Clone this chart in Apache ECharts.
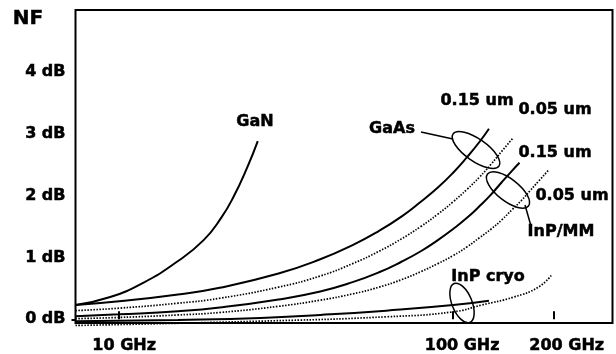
<!DOCTYPE html>
<html>
<head>
<meta charset="utf-8">
<script src="https://cdn.jsdelivr.net/npm/echarts@6/dist/echarts.min.js"></script>
<style>html,body{margin:0;padding:0;background:#fff}#c{width:616px;height:354px}</style>
</head>
<body>
<div id="c"></div>
<script>
// ---- data (frequency in GHz, noise figure in dB) ----
const xTickValues = [10, 100, 200];
const yTickValues = [0, 1, 2, 3, 4];

const ganFreq = [7.4, 9.4, 11.8, 14.9, 17.9, 20.2, 22, 24.2, 26];
const ganNF   = [0.23, 0.36, 0.59, 0.93, 1.28, 1.64, 1.98, 2.46, 2.88];

const gaas015Freq = [7.4, 10, 15, 20, 30, 40, 50, 60, 70, 80, 90, 100, 110, 120, 128];
const gaas015NF   = [0.23, 0.29, 0.40, 0.51, 0.74, 0.97, 1.20, 1.43, 1.66, 1.90, 2.13, 2.37, 2.62, 2.87, 3.08];

const gaas005Freq = [7.4, 10, 15, 20, 30, 40, 50, 60, 70, 80, 90, 100, 110, 120, 130, 140, 151];
const gaas005NF   = [0.14, 0.18, 0.26, 0.34, 0.52, 0.70, 0.90, 1.10, 1.30, 1.50, 1.70, 1.90, 2.10, 2.30, 2.51, 2.72, 2.93];

const inp015Freq = [7.4, 10, 15, 20, 30, 40, 50, 60, 70, 80, 90, 100, 110, 120, 130, 140, 150, 158];
const inp015NF   = [0.05, 0.08, 0.13, 0.19, 0.32, 0.45, 0.60, 0.76, 0.93, 1.10, 1.28, 1.46, 1.64, 1.83, 2.02, 2.22, 2.40, 2.53];

const inp005Freq = [7.4, 10, 15, 20, 30, 40, 50, 60, 70, 80, 90, 100, 110, 120, 130, 140, 150, 160, 170, 180, 193];
const inp005NF   = [0.01, 0.03, 0.07, 0.11, 0.21, 0.31, 0.41, 0.52, 0.64, 0.77, 0.90, 1.03, 1.17, 1.32, 1.46, 1.61, 1.77, 1.92, 2.08, 2.23, 2.41];

const cryoSolidFreq = [7.4, 15, 26.5, 40, 63, 100, 128];
const cryoSolidNF   = [-0.03, -0.01, 0.02, 0.07, 0.14, 0.23, 0.30];

const cryoDotFreq = [7.4, 26.5, 63, 100, 121.6, 152, 180, 198];
const cryoDotNF   = [-0.1, -0.03, 0.04, 0.12, 0.23, 0.36, 0.52, 0.73];

function pairs(f, v) { return f.map((x, i) => [x, v[i]]); }

const FONT = 'bold 16px "DejaVu Sans"';
const solid = { color: '#000', width: 2, type: 'solid' };
const dotted = { color: '#000', width: 1.7, type: [1.5, 1.5] };

function line(name, f, v, style, extra) {
  return Object.assign({
    name: name, type: 'line', data: pairs(f, v), smooth: 0.5,
    showSymbol: false, symbol: 'none', lineStyle: style, animation: false
  }, extra || {});
}
function txt(t, x, y, font) {
  return { type: 'text', x: x, y: y, style: { text: t, font: font || FONT, fill: '#000', stroke: '#000', lineWidth: 0.5, textAlign: 'center', textVerticalAlign: 'middle' } };
}
const labelRich = { fontFamily: 'DejaVu Sans', fontWeight: 'bold', fontSize: 16, color: '#000', textBorderColor: '#000', textBorderWidth: 0.5 };

const chart = echarts.init(document.getElementById('c'), null, { renderer: 'canvas' });
chart.setOption({
  animation: false,
  backgroundColor: '#fff',
  grid: { left: 75.5, top: 10, right: 3.5, bottom: 31, show: true, borderColor: '#000', borderWidth: 2, outerBoundsMode: 'none', containLabel: false },
  xAxis: {
    type: 'log', logBase: 10, min: 7.4, max: 300,
    axisLine: { show: false }, splitLine: { show: false }, minorTick: { show: false },
    axisTick: { show: true, customValues: xTickValues, inside: true, length: 8, lineStyle: { color: '#000', width: 2 } },
    axisLabel: {
      customValues: xTickValues, margin: 15, color: '#000',
      fontFamily: 'DejaVu Sans', fontWeight: 'bold', fontSize: 16,
      formatter: function (v) {
        const k = v < 50 ? 'a' : (v < 150 ? 'b' : 'c');
        return '{' + k + '|' + v + ' GHz}';
      },
      rich: {
        a: Object.assign({ padding: [0, 0, 0, 10] }, labelRich),
        b: Object.assign({ padding: [0, 0, 0, 18] }, labelRich),
        c: Object.assign({ padding: [0, 0, 0, 26] }, labelRich)
      }
    }
  },
  yAxis: {
    type: 'value', min: -0.06, max: 5,
    axisLine: { show: false }, splitLine: { show: false },
    axisTick: { show: true, customValues: [0], length: 4, lineStyle: { color: '#000', width: 2 } },
    axisLabel: {
      customValues: yTickValues, margin: 10, color: '#000',
      fontFamily: 'DejaVu Sans', fontWeight: 'bold', fontSize: 16,
      textBorderColor: '#000', textBorderWidth: 0.5,
      formatter: function (v) { return v + ' dB'; }
    }
  },
  series: [
    line('GaN', ganFreq, ganNF, solid),
    line('GaAs 0.15 um', gaas015Freq, gaas015NF, solid),
    line('GaAs 0.05 um', gaas005Freq, gaas005NF, dotted),
    line('InP/MM 0.15 um', inp015Freq, inp015NF, solid),
    line('InP/MM 0.05 um', inp005Freq, inp005NF, dotted),
    line('InP cryo', cryoSolidFreq, cryoSolidNF, solid),
    line('InP cryo dotted', cryoDotFreq, cryoDotNF, dotted, { clip: false })
  ],
  graphic: [
    txt('NF', 28, 19, 'bold 20px "DejaVu Sans"'),
    txt('GaN', 255, 122),
    txt('GaAs', 392, 129),
    txt('0.15 um', 477, 101),
    txt('0.05 um', 555, 110),
    txt('0.15 um', 555, 153),
    txt('0.05 um', 572, 196),
    txt('InP/MM', 561, 232),
    txt('InP cryo', 488, 277),
    { type: 'ellipse', x: 476, y: 150, rotation: -35 * Math.PI / 180, shape: { cx: 0, cy: 0, rx: 28, ry: 11 }, style: { fill: 'none', stroke: '#000', lineWidth: 1.5 } },
    { type: 'ellipse', x: 508, y: 190, rotation: -38 * Math.PI / 180, shape: { cx: 0, cy: 0, rx: 26, ry: 11 }, style: { fill: 'none', stroke: '#000', lineWidth: 1.5 } },
    { type: 'ellipse', x: 462, y: 303, rotation: -68 * Math.PI / 180, shape: { cx: 0, cy: 0, rx: 21, ry: 10 }, style: { fill: 'none', stroke: '#000', lineWidth: 1.5 } },
    { type: 'line', shape: { x1: 421, y1: 132, x2: 453, y2: 139 }, style: { stroke: '#000', lineWidth: 1.5 } },
    { type: 'line', shape: { x1: 525, y1: 205, x2: 531, y2: 226 }, style: { stroke: '#000', lineWidth: 1.5 } }
  ]
});
</script>
</body>
</html>
